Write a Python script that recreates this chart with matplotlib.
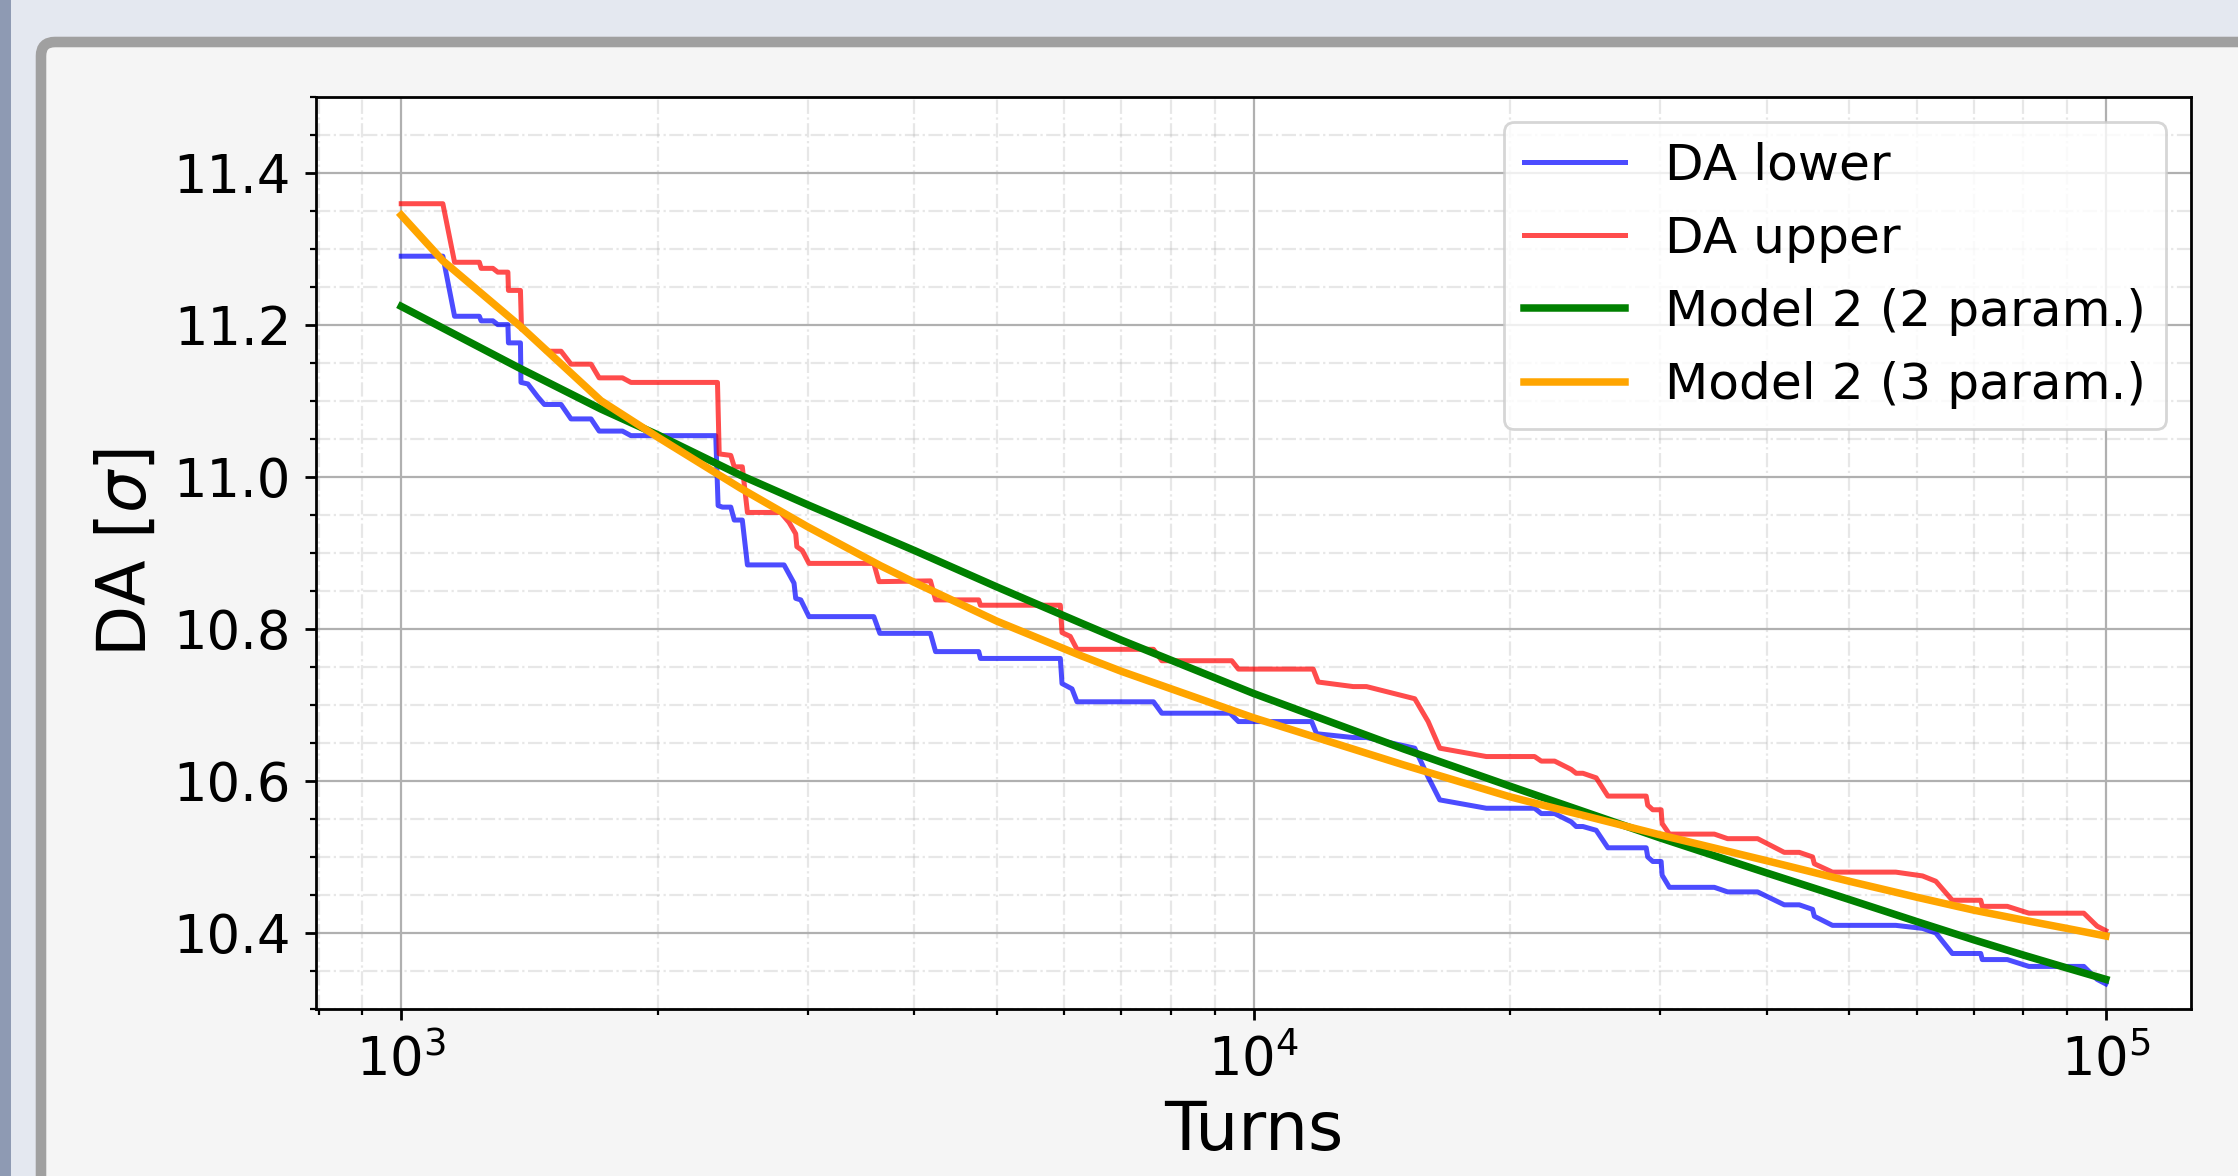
import matplotlib
matplotlib.use("Agg")
import matplotlib.pyplot as plt
from matplotlib.patches import FancyBboxPatch, Rectangle
from matplotlib.transforms import IdentityTransform

# DA lower / upper bounds (turns, DA in sigma)
lower_turns = [1000, 1119, 1155, 1235, 1241, 1281, 1298, 1334, 1336, 1380, 1382, 1408, 1446, 1472,
               1540, 1582, 1670, 1707, 1818, 1860, 2339, 2354, 2382, 2436, 2459, 2513, 2548, 2813,
               2890, 2903, 2943, 3009, 3585, 3644, 4178, 4236, 4760, 4782, 5934, 5961, 6124, 6207,
               7632, 7805, 9386, 9601, 11700, 11858, 13090, 13570, 15460, 16030, 16540, 18760,
               21370, 21760, 22560, 23600, 23910, 24350, 25240, 26050, 28890, 29010, 29410, 30080,
               30160, 30760, 34730, 36000, 39040, 41950, 43690, 45290, 45500, 47780, 56700, 60950,
               63180, 66060, 71330, 71630, 76640, 81240, 94240, 97680, 100000]
lower_da = [11.290, 11.290, 11.211, 11.211, 11.205, 11.205, 11.200, 11.200, 11.176, 11.176, 11.124,
            11.122, 11.105, 11.095, 11.095, 11.076, 11.076, 11.060, 11.060, 11.054, 11.054, 10.962,
            10.960, 10.960, 10.943, 10.943, 10.884, 10.884, 10.860, 10.840, 10.838, 10.816, 10.816,
            10.794, 10.794, 10.770, 10.770, 10.761, 10.761, 10.728, 10.721, 10.704, 10.704, 10.689,
            10.689, 10.678, 10.678, 10.662, 10.657, 10.657, 10.643, 10.605, 10.575, 10.564, 10.564,
            10.557, 10.557, 10.546, 10.540, 10.540, 10.535, 10.512, 10.512, 10.500, 10.494, 10.494,
            10.476, 10.460, 10.460, 10.454, 10.454, 10.437, 10.437, 10.431, 10.422, 10.410, 10.410,
            10.406, 10.400, 10.373, 10.373, 10.365, 10.365, 10.356, 10.356, 10.339, 10.333]

upper_turns = [1000, 1119, 1155, 1235, 1241, 1281, 1298, 1334, 1336, 1380, 1384, 1408, 1459, 1479,
               1540, 1582, 1670, 1707, 1818, 1860, 2350, 2361, 2436, 2459, 2513, 2548, 2787, 2851,
               2903, 2912, 2955, 3009, 3585, 3635, 4178, 4236, 4760, 4782, 5934, 5961, 6095, 6207,
               7632, 7805, 9430, 9601, 11750, 11910, 13090, 13570, 15460, 16030, 16540, 18760,
               21370, 21760, 22560, 23600, 23910, 24350, 25240, 26050, 28890, 29010, 29410, 30080,
               30160, 30760, 34730, 36000, 39040, 41950, 43690, 45290, 45500, 47780, 56700, 60950,
               63180, 66060, 71330, 71630, 76640, 81240, 94240, 97680, 100000]
upper_da = [11.359, 11.359, 11.282, 11.282, 11.274, 11.274, 11.269, 11.269, 11.245, 11.245, 11.194,
            11.190, 11.173, 11.165, 11.165, 11.148, 11.148, 11.130, 11.130, 11.124, 11.124, 11.030,
            11.028, 11.013, 11.013, 10.953, 10.953, 10.940, 10.925, 10.908, 10.903, 10.886, 10.886,
            10.862, 10.863, 10.838, 10.838, 10.831, 10.831, 10.795, 10.790, 10.773, 10.773, 10.758,
            10.758, 10.747, 10.747, 10.730, 10.724, 10.724, 10.708, 10.678, 10.643, 10.632, 10.632,
            10.626, 10.626, 10.615, 10.610, 10.610, 10.604, 10.580, 10.580, 10.568, 10.562, 10.562,
            10.544, 10.530, 10.530, 10.524, 10.524, 10.506, 10.506, 10.500, 10.491, 10.480, 10.480,
            10.475, 10.468, 10.443, 10.443, 10.435, 10.435, 10.426, 10.426, 10.409, 10.403]

# fitted model curves
fit2_turns = [1000, 1370, 1715, 2000, 2500, 3000, 4000, 5000, 6262, 7000, 10000, 15000, 20000,
              30000, 40000, 50000, 60000, 70000, 80000, 90000, 100000]
fit2_da = [11.224, 11.144, 11.089, 11.055, 11.002, 10.963, 10.903, 10.855, 10.808, 10.785, 10.715,
           10.642, 10.593, 10.525, 10.479, 10.444, 10.415, 10.391, 10.371, 10.354, 10.339]

fit3_turns = [1000, 1119, 1382, 1715, 2000, 2500, 3000, 3650, 4000, 5000, 6262, 7000, 10000,
              15000, 20000, 30000, 40000, 50000, 60000, 70000, 80000, 90000, 100000]
fit3_da = [11.344, 11.284, 11.197, 11.100, 11.052, 10.985, 10.934, 10.883, 10.861, 10.810, 10.765,
           10.744, 10.683, 10.621, 10.579, 10.529, 10.495, 10.468, 10.447, 10.430, 10.417, 10.406,
           10.396]

W, H = 2238, 1176
fig = plt.figure(figsize=(W / 200, H / 200), dpi=200)
fig.patch.set_facecolor('#e4e8f0')

# window chrome around the plot
fig.add_artist(Rectangle((0, 0), 11, H, transform=IdentityTransform(),
                         facecolor='#8e9ab3', edgecolor='none', zorder=-5))
fig.add_artist(FancyBboxPatch((41, -40), W + 10, H - 42 + 40, transform=IdentityTransform(),
                              boxstyle='round,pad=0,rounding_size=14',
                              facecolor='#f5f5f5', edgecolor='#a0a0a0', linewidth=3.8, zorder=-4))

ax = fig.add_axes([316 / W, 1 - 1009 / H, (2191 - 316) / W, (1009 - 96.5) / H])
ax.set_facecolor('white')

ax.plot(lower_turns, lower_da, color='blue', alpha=0.7, lw=1.8, label='DA lower')
ax.plot(upper_turns, upper_da, color='red', alpha=0.7, lw=1.8, label='DA upper')
ax.plot(fit2_turns, fit2_da, color='green', lw=2.7, label='Model 2 (2 param.)')
ax.plot(fit3_turns, fit3_da, color='orange', lw=2.7, label='Model 2 (3 param.)')

ax.set_xscale('log')
ax.set_ylim(10.3, 11.5)
ax.set_yticks([10.4, 10.6, 10.8, 11.0, 11.2, 11.4])
ax.minorticks_on()
ax.grid(which='major', color='#b0b0b0', lw=0.8)
ax.grid(which='minor', color='#b0b0b0', lw=0.8, ls='-.', alpha=0.3)

ax.tick_params(which='major', labelsize=19, length=4, width=1.0, pad=5)
ax.tick_params(which='minor', length=2, width=0.8)
for sp in ax.spines.values():
    sp.set_linewidth(1.0)

ax.set_xlabel('Turns', fontsize=24.5)
ax.set_ylabel(r'DA [$\sigma$]', fontsize=24, labelpad=5)
ax.legend(loc='upper right', fontsize=18.1)

fig.savefig('out.png', dpi=200, facecolor=fig.get_facecolor())
